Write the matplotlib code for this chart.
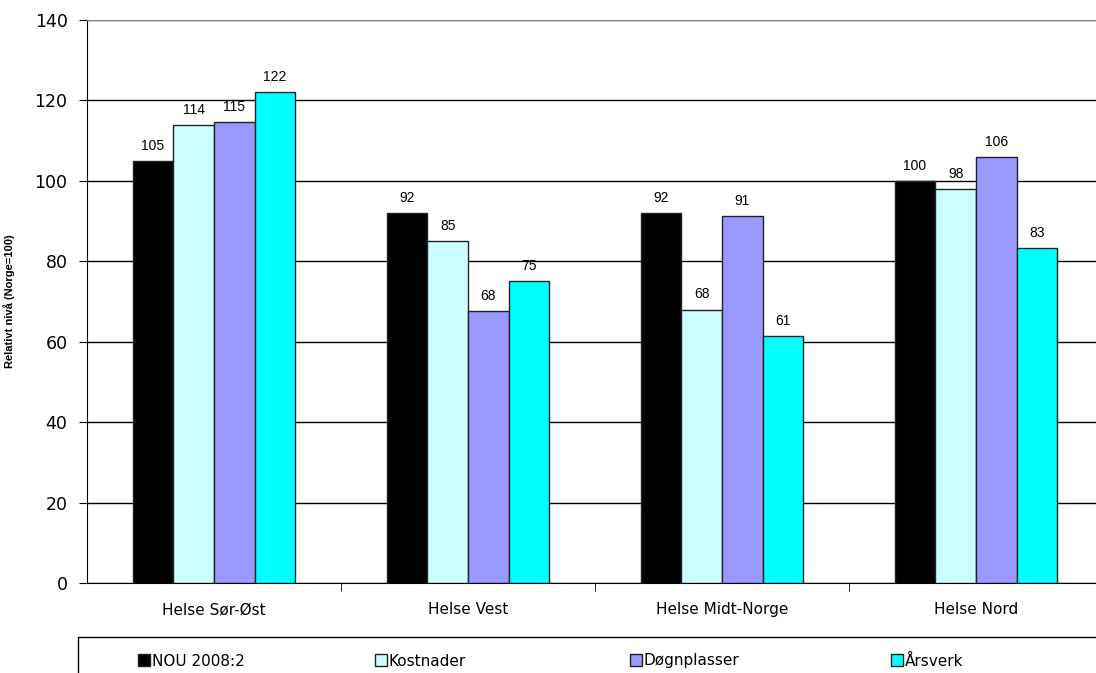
import numpy as np
import matplotlib.pyplot as plt
from matplotlib.patches import Rectangle

regions = ["Helse Sør-Øst", "Helse Vest", "Helse Midt-Norge", "Helse Nord"]
series = ["NOU 2008:2", "Kostnader", "Døgnplasser", "Årsverk"]
nou = [105, 92, 92, 100]
kostnader = [114, 85, 68, 98]
dognplasser = [114.7, 67.6, 91.2, 106]
arsverk = [122, 75, 61.4, 83.3]
colors = ["#000000", "#ccffff", "#9999ff", "#00ffff"]

fig = plt.figure(figsize=(10.96, 6.73), dpi=100)
ax = fig.add_axes([87 / 1096, 90 / 673, 1016 / 1096, 563 / 673])

x = np.arange(len(regions))
w = 0.16
bars = []
for i, (vals, c, name) in enumerate(zip([nou, kostnader, dognplasser, arsverk], colors, series)):
    pos = x + (i - 1.5) * w
    b = ax.bar(pos, vals, width=w, color=c, edgecolor="#222222", linewidth=1, label=name, zorder=3)
    bars.append(b)
    for p, v in zip(pos, vals):
        ax.text(p, v + 2, f"{v:.0f}", ha="center", va="bottom", fontsize=10,
                family="Liberation Sans", zorder=4)

ax.set_xlim(-0.5, 3.5)
ax.set_ylim(0, 140)
ax.set_yticks(range(0, 141, 20))
ax.set_yticklabels([str(v) for v in range(0, 141, 20)], fontsize=12.5)
ax.yaxis.grid(True, color="black", linewidth=1, zorder=0)
ax.set_xticks(x)
ax.set_xticklabels(regions, fontsize=11)
ax.tick_params(axis="x", length=0, pad=14)
ax.set_xticks([0.5, 1.5, 2.5], minor=True)
ax.tick_params(axis="x", which="minor", length=6, direction="out")
ax.tick_params(axis="y", length=6, direction="out", pad=8)
ax.set_ylabel("Relativt nivå (Norge=100)", fontsize=8, fontweight="bold",
              family="Liberation Sans", labelpad=14)
ax.spines["right"].set_visible(False)
ax.spines["top"].set_color("#888888")

fig.patches.append(Rectangle((78 / 1096, -0.1), 1.1, (673 - 637) / 673 + 0.1,
                             transform=fig.transFigure, fill=False,
                             edgecolor="black", linewidth=1))
leg_x = [138, 375, 630, 891]
for b, name, lx in zip(bars, series, leg_x):
    leg = fig.legend([b], [name], loc="center left", bbox_to_anchor=(lx / 1096, 12 / 673),
                     frameon=False, fontsize=11, handlelength=0.8, handleheight=0.8,
                     handletextpad=0.1, borderpad=0, borderaxespad=0)

fig.savefig("out.png", dpi=100)
